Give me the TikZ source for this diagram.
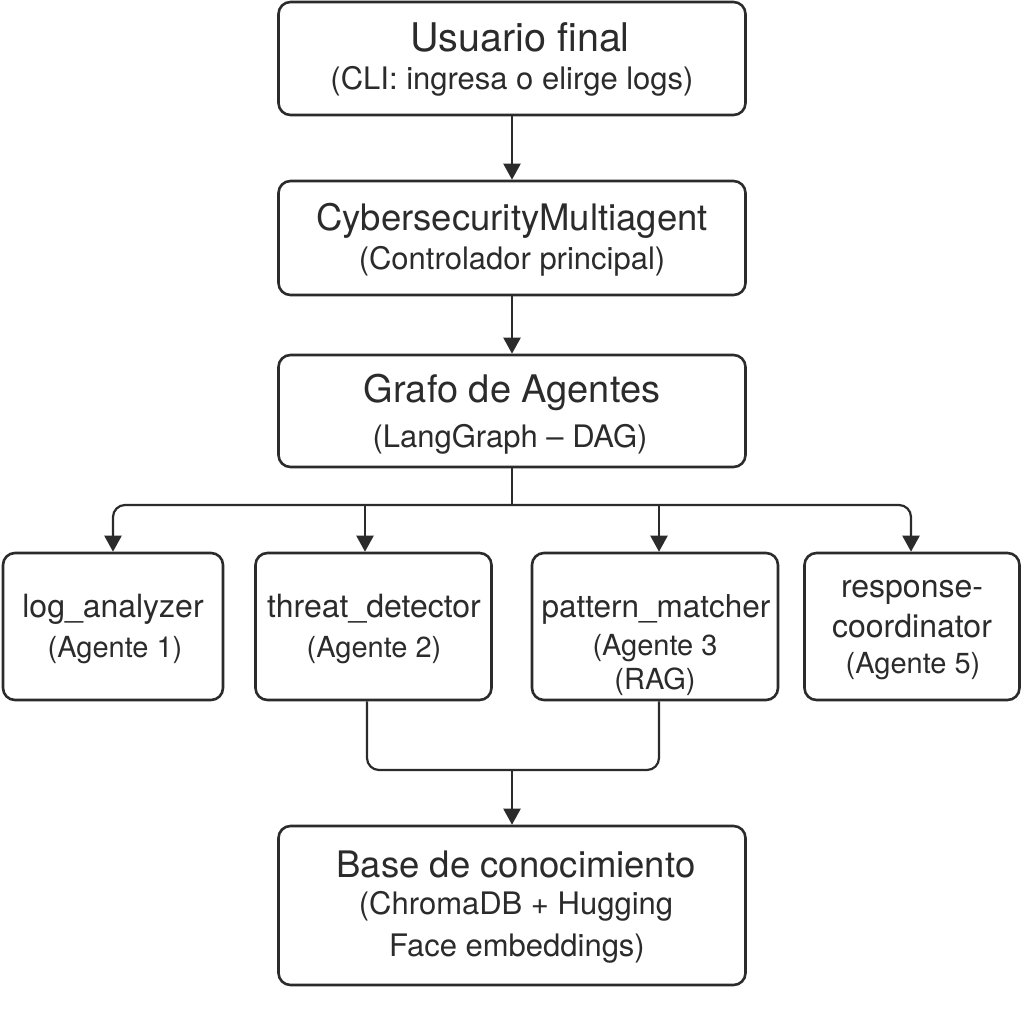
\documentclass[tikz,border=0pt]{standalone}
\usepackage{fontspec}
\setmainfont{TeX Gyre Heros}
\usetikzlibrary{arrows.meta}
\definecolor{ink}{HTML}{2B2B2B}
\begin{document}
\begin{tikzpicture}[x=1pt,y=-1pt,
  box/.style={draw=ink, line width=2.6pt, rounded corners=12pt, fill=white, inner sep=0pt},
  ttl/.style={text=ink, anchor=base, inner sep=0pt, font=\fontsize{37}{40}\selectfont},
  sub/.style={text=ink, anchor=base, inner sep=0pt, font=\fontsize{31}{34}\selectfont},
  attl/.style={text=ink, anchor=base, inner sep=0pt, font=\fontsize{32}{34}\selectfont},
  asub/.style={text=ink, anchor=base, inner sep=0pt, font=\fontsize{29}{32}\selectfont},
  line/.style={draw=ink, line width=2.2pt, rounded corners=12pt},
  arr/.style={line, -{Triangle[length=16pt,width=17pt]}}
]
\useasboundingbox (0,0) rectangle (1024,1024);
\fill[white] (0,0) rectangle (1024,1024);

% main boxes
\node[box, minimum width=467pt, minimum height=113pt] (user) at (512,58.5) {};
\node[box, minimum width=467pt, minimum height=114pt] (ctrl) at (512,238) {};
\node[box, minimum width=467pt, minimum height=112pt] (graph) at (512,411) {};
\node[box, minimum width=467pt, minimum height=159pt] (kb) at (512,905.5) {};

% agent boxes
\node[box, minimum width=220pt, minimum height=147pt] (a1) at (113,626.5) {};
\node[box, minimum width=236pt, minimum height=147pt] (a2) at (373.5,626.5) {};
\node[box, minimum width=246pt, minimum height=147pt] (a3) at (655,626.5) {};
\node[box, minimum width=215pt, minimum height=147pt] (a4) at (912,626.5) {};

% texts
\node[ttl, font=\fontsize{39.5}{42}\selectfont] (userT) at (520,52) {Usuario final};
\node[sub] (userS) at (512,90) {(CLI: ingresa o elirge logs)};
\node[ttl, font=\fontsize{36.5}{40}\selectfont] (ctrlT) at (512,230) {CybersecurityMultiagent};
\node[sub] (ctrlS) at (512,269) {(Controlador principal)};
\node[ttl, font=\fontsize{38}{40}\selectfont] (graphT) at (512,402) {Grafo de Agentes};
\node[sub] (graphS) at (510,447) {(LangGraph – DAG)};

\node[attl] (a1T) at (113,617) {log\_analyzer};
\node[asub] (a1S) at (115,657) {(Agente 1)};
\node[attl] (a2T) at (374,617) {threat\_detector};
\node[asub] (a2S) at (374,657) {(Agente 2)};
\node[attl, font=\fontsize{31.5}{34}\selectfont] (a3T) at (656,617) {pattern\_matcher};
\node[asub] (a3S) at (655,655) {(Agente 3};
\node[asub] (a3R) at (655,689) {(RAG)};
\node[attl] (a4T) at (912,597) {response-};
\node[attl] (a4U) at (912,637) {coordinator};
\node[asub] (a4S) at (913,673) {(Agente 5)};

\node[ttl, font=\fontsize{36.5}{40}\selectfont] (kbT) at (516,877) {Base de conocimiento};
\node[sub] (kbS) at (516,914) {(ChromaDB + Hugging};
\node[sub] (kbU) at (517,956) {Face embeddings)};

% connectors
\draw[arr] (user.south) -- (ctrl.north);
\draw[arr] (ctrl.south) -- (graph.north);
\coordinate (fork) at (512,505);
\draw[line] (graph.south) -- (fork);
\draw[arr] (fork) -| (a1.north);
\draw[arr] (fork) -| (a4.north -| 911,0);
\draw[arr] (fork -| 365,0) -- (a2.north -| 365,0);
\draw[arr] (fork -| 659,0) -- (a3.north -| 659,0);
\coordinate (join) at (512,770);
\draw[line] (a2.south -| 367,0) |- (join) -| (a3.south -| 659,0);
\draw[arr] (join) -- (kb.north);
\end{tikzpicture}
\end{document}
